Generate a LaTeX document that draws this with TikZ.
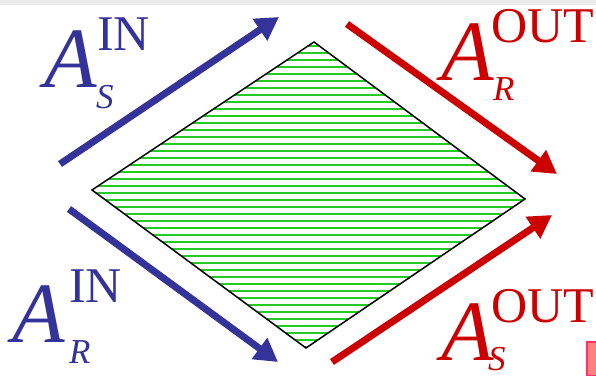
\documentclass[tikz,border=0pt]{standalone}
\usepackage{fontspec}
\setmainfont{Liberation Serif}
\usepackage{tikz}
\usetikzlibrary{arrows.meta}
\definecolor{inblue}{HTML}{333399}
\definecolor{outred}{HTML}{CC0000}
\definecolor{hatchgreen}{HTML}{22CC22}
\tikzset{
    inflow/.style={-{Triangle[length=23pt,width=25pt]}, line width=7pt, inblue},
    outflow/.style={-{Triangle[length=23pt,width=25pt]}, line width=7pt, outred},
    hatch/.style={hatchgreen, line width=2.4pt},
    bigA/.style={anchor=base west, inner sep=0pt, font=\fontsize{86}{86}\selectfont\itshape},
    upper/.style={anchor=base west, inner sep=0pt, font=\fontsize{50}{50}\selectfont},
    lower/.style={anchor=base west, inner sep=0pt, font=\fontsize{35}{35}\selectfont\itshape}
}

\begin{document}
\begin{tikzpicture}[x=1pt, y=-1pt]
    \useasboundingbox (0,0) rectangle (596,375);
    \fill[gray!15] (0,0) rectangle (596,5);
    % diamond
    \coordinate (L) at (92,190);
    \coordinate (T) at (314,42);
    \coordinate (R) at (525,199);
    \coordinate (B) at (306,348);
    \begin{scope}
        \clip (L) -- (T) -- (R) -- (B) -- cycle;
        \foreach \y in {46,53,...,348} \draw[hatch] (80,\y) -- (540,\y);
    \end{scope}
    \draw[black, line width=1.5pt, line join=miter] (L) -- (T) -- (R) -- (B) -- cycle;
    % incoming arrows
    \coordinate (sinA) at (60,164);
    \coordinate (sinB) at (279,17);
    \coordinate (rinA) at (69,209);
    \coordinate (rinB) at (278,362);
    \draw[inflow] (sinA) -- (sinB);
    \draw[inflow] (rinA) -- (rinB);
    % outgoing arrows
    \coordinate (routA) at (347,24);
    \coordinate (routB) at (557,174);
    \coordinate (soutA) at (332,362);
    \coordinate (soutB) at (552,215);
    \draw[outflow] (routA) -- (routB);
    \draw[outflow] (soutA) -- (soutB);
    % labels
    \node[bigA, inblue] (asin) at (44,87) {A};
    \node[upper, inblue] (asinsup) at (97,50) {IN};
    \node[lower, inblue] (asinsub) at (96,108) {S};
    \node[bigA, inblue] (arin) at (12,342) {A};
    \node[upper, inblue] (arinsup) at (69,302) {IN};
    \node[lower, inblue] (arinsub) at (69,363) {R};
    \node[bigA, outred] (arout) at (441,80) {A};
    \node[upper, outred] (aroutsup) at (491,42) {OUT};
    \node[lower, outred] (aroutsub) at (493,100) {R};
    \node[bigA, outred] (asout) at (441,360) {A};
    \node[upper, outred] (asoutsup) at (491,322) {OUT};
    \node[lower, outred] (asoutsub) at (488,370) {S};
    % corner mark
    \draw[fill={rgb,255:red,255;green,128;blue,128}, draw={rgb,255:red,255;green,51;blue,102}, line width=1.5pt] (587,342) rectangle (597,376);
\end{tikzpicture}
\end{document}
